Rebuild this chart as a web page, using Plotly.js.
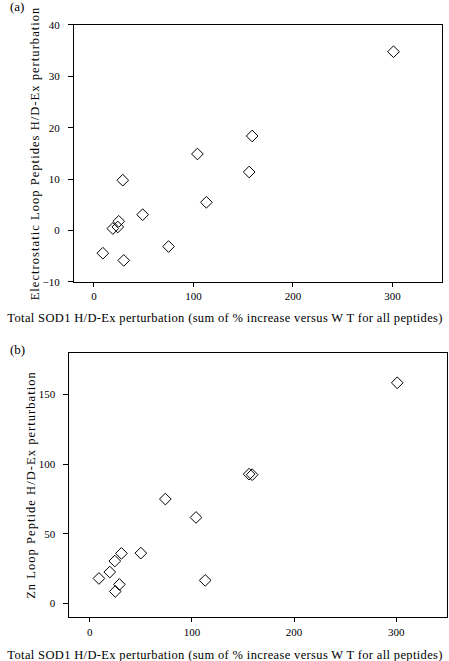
<!DOCTYPE html>
<html>
<head>
<meta charset="utf-8">
<script src="https://cdn.plot.ly/plotly-3.0.1.min.js"></script>
<style>
html,body{margin:0;padding:0;background:#fff;}
#chart{width:449px;height:661px;}
.annotation-text.xt{letter-spacing:0.35px;}
.ytitle{letter-spacing:1.05px;}
.y2title{letter-spacing:1.05px;}
</style>
</head>
<body>
<div id="chart"></div>
<script>
// Panel (a): Electrostatic loop peptides
var totalA = [301, 159, 104, 156, 29, 113, 49, 25, 19, 24, 75, 9, 30];
var electroLoop = [34.8, 18.4, 14.9, 11.4, 9.8, 5.5, 3.1, 1.8, 0.4, 0.7, -3.1, -4.4, -5.8];
// Panel (b): Zn loop peptide
var totalB = [301, 156, 159, 74, 104, 50, 31, 24.5, 19.6, 9, 113, 29, 25];
var znLoop = [158.4, 92.8, 92.4, 74.9, 61.7, 36.1, 35.9, 30.4, 22.5, 17.9, 16.5, 13.6, 8.6];

var xTitle = 'Total SOD1 H/D-Ex perturbation (sum of % increase versus W T for all peptides)';
var yTitleA = 'Electrostatic Loop Peptides H/D-Ex perturbation';
var yTitleB = 'Zn Loop Peptide H/D-Ex perturbation';
var xTicks = [0, 100, 200, 300];
var yTicksA = [-10, 0, 10, 20, 30, 40];
var yTicksB = [0, 50, 100, 150];

var FONT = '"Liberation Serif", "Times New Roman", serif';
var marker = {symbol: 'diamond-open', size: 9, color: '#000', line: {width: 1, color: '#000'}};

var traces = [
  {x: totalA, y: electroLoop, type: 'scatter', mode: 'markers', marker: marker, xaxis: 'x', yaxis: 'y', showlegend: false},
  {x: totalB, y: znLoop, type: 'scatter', mode: 'markers', marker: marker, xaxis: 'x2', yaxis: 'y2', showlegend: false}
];

function axis(extra) {
  var base = {
    showline: true, mirror: true, linecolor: '#000', linewidth: 1,
    showgrid: false, zeroline: false,
    ticks: 'outside', ticklen: 4, tickwidth: 1, tickcolor: '#000',
    tickfont: {family: FONT, size: 11, color: '#000'},
    tickmode: 'array'
  };
  for (var k in extra) base[k] = extra[k];
  return base;
}

var layout = {
  width: 449, height: 661,
  margin: {l: 0, r: 0, t: 0, b: 0},
  paper_bgcolor: '#fff', plot_bgcolor: '#fff',
  font: {family: FONT, color: '#000'},
  xaxis: axis({domain: [0.1648, 0.985], anchor: 'y', range: [-20, 350], tickvals: xTicks}),
  yaxis: axis({domain: [0.5734, 0.9622], anchor: 'x', range: [-10, 40], tickvals: yTicksA, ticklen: 5, ticklabelstandoff: 6,
    title: {text: yTitleA, font: {family: FONT, size: 12.5, color: '#000'}, standoff: 0}}),
  xaxis2: axis({domain: [0.1544, 0.9962], anchor: 'y2', range: [-20, 350], tickvals: xTicks}),
  yaxis2: axis({domain: [0.0661, 0.4664], anchor: 'x2', range: [-10, 180], tickvals: yTicksB, ticklen: 5, ticklabelstandoff: 6,
    title: {text: yTitleB, font: {family: FONT, size: 12.5, color: '#000'}, standoff: 0}}),
  annotations: [
    {text: '(a)', xref: 'paper', yref: 'paper', x: 8/449, y: 1 - 7/661, xanchor: 'left', yanchor: 'middle', showarrow: false, font: {family: FONT, size: 13, color: '#000'}},
    {text: '(b)', xref: 'paper', yref: 'paper', x: 8/449, y: 1 - 349/661, xanchor: 'left', yanchor: 'middle', showarrow: false, font: {family: FONT, size: 13, color: '#000'}},
    {text: xTitle, xref: 'paper', yref: 'paper', x: 0.5, y: 1 - 318/661, xanchor: 'center', yanchor: 'middle', showarrow: false, font: {family: FONT, size: 12.5, color: '#000'}},
    {text: xTitle, xref: 'paper', yref: 'paper', x: 0.5, y: 1 - 655/661, xanchor: 'center', yanchor: 'middle', showarrow: false, font: {family: FONT, size: 12.5, color: '#000'}}
  ]
};

Plotly.newPlot('chart', traces, layout, {staticPlot: true, displayModeBar: false}).then(function(gd){
  var ann = document.querySelectorAll('.annotation-text');
  for (var i = 2; i < ann.length; i++) ann[i].classList.add('xt');
});
</script>
</body>
</html>
